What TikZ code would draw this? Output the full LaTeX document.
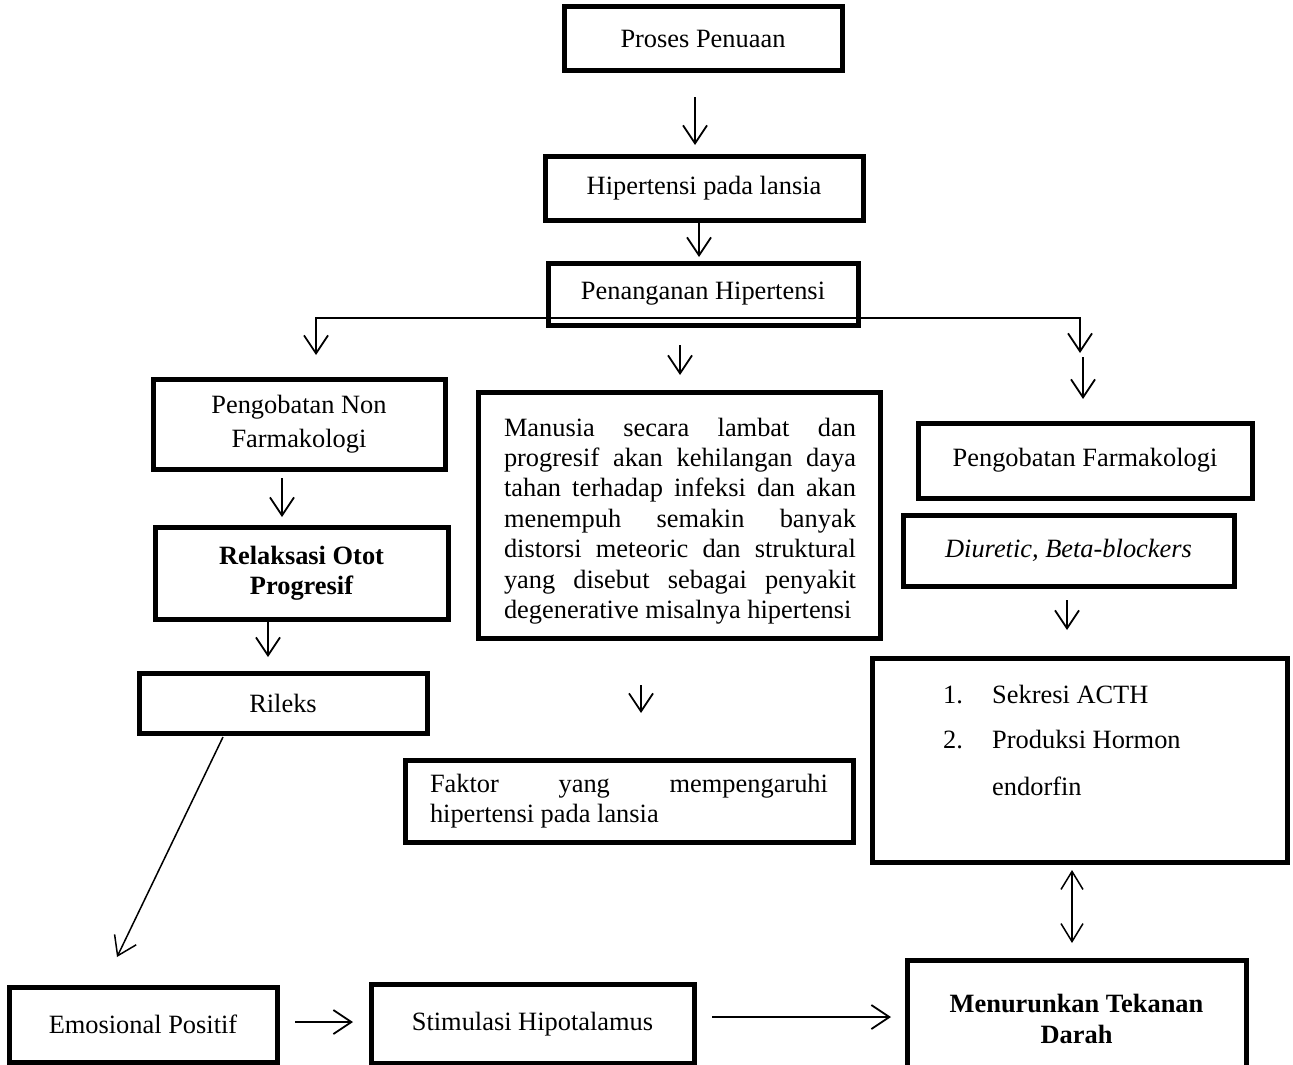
\documentclass[tikz,border=0pt]{standalone}
\usepackage{fontspec}
\setmainfont{Liberation Serif}
\usetikzlibrary{arrows.meta}
\begin{document}
\begin{tikzpicture}[x=1pt,y=-1pt,
  every node/.style={font=\fontsize{26.4}{30.4}\selectfont},
  box/.style={draw, line width=5pt, inner sep=0pt, align=center},
  arr/.style={line width=1.8pt, -{Straight Barb[length=18pt,width=24pt]}},
  dbl/.style={line width=1.5pt, {Straight Barb[length=18pt,width=22pt]}-{Straight Barb[length=18pt,width=22pt]}},
  lbl/.style={inner sep=0pt, anchor=base west}]
\useasboundingbox (0,0) rectangle (1293,1065);
\clip (0,0) rectangle (1293,1065);

% boxes
\node[box, minimum width=278pt, minimum height=64pt] (p1) at (703,39) {Proses Penuaan};
\node[box, minimum width=318pt, minimum height=64pt] (p2) at (704,188) {Hipertensi pada lansia};
\node[box, minimum width=310pt, minimum height=62pt] (p3) at (703,294) {Penanganan Hipertensi};
\node[box, minimum width=292pt, minimum height=90pt] (nf) at (299,424) {Pengobatan Non\\[3pt]Farmakologi};
\node[box, minimum width=293pt, minimum height=92pt] (rop) at (301.5,573) {\bfseries Relaksasi Otot\\\bfseries Progresif};
\node[box, minimum width=288pt, minimum height=60pt] (ril) at (283,703) {Rileks};
\node[box, minimum width=402pt, minimum height=246pt] (man) at (679,515) {};
\node[inner sep=0pt, text width=352pt, align=justify] (mantext) at (680,521)
  {Manusia secara lambat dan\linebreak progresif akan kehilangan daya\linebreak tahan terhadap infeksi dan akan\linebreak menempuh semakin banyak\linebreak distorsi meteoric dan struktural\linebreak yang disebut sebagai penyakit\linebreak degenerative misalnya hipertensi};
\node[box, minimum width=448pt, minimum height=82pt, text width=398pt, align=justify] (fak) at (629,801)
  {Faktor yang mempengaruhi\linebreak hipertensi pada lansia};
\node[box, minimum width=334pt, minimum height=75pt] (pf) at (1085,460.5) {Pengobatan Farmakologi};
\node[box, minimum width=331pt, minimum height=71pt] (diu) at (1068.5,550.5) {\itshape Diuretic, Beta-blockers};
\node[box, minimum width=415pt, minimum height=204pt] (lst) at (1079.5,760) {};
\node[lbl] (n1) at (943,703) {1.};
\node[lbl] (t1) at (992,703) {Sekresi ACTH};
\node[lbl] (n2) at (943,748) {2.};
\node[lbl] (t2) at (992,748) {Produksi Hormon};
\node[lbl] (t3) at (992,795) {endorfin};
\node[box, minimum width=268pt, minimum height=75pt] (emo) at (143,1024.5) {Emosional Positif};
\node[box, minimum width=323pt, minimum height=79pt] (sti) at (532.5,1024) {Stimulasi Hipotalamus};
\node[box, minimum width=339pt, minimum height=118pt] (men) at (1076.5,1019) {\bfseries Menurunkan Tekanan\\\bfseries Darah};

% connector end points
\coordinate (a1s) at (695,97);   \coordinate (a1e) at (695,145);
\coordinate (a2s) at (699,219);  \coordinate (a2e) at (699,257);
\coordinate (brL) at (316,355);  \coordinate (brC) at (1080,318); \coordinate (brR) at (1080,353);
\coordinate (a3s) at (1083,357); \coordinate (a3e) at (1083,399);
\coordinate (a4s) at (680,345);  \coordinate (a4e) at (680,375);
\coordinate (a5s) at (282,478);  \coordinate (a5e) at (282,517);
\coordinate (a6s) at (268,619);  \coordinate (a6e) at (268,657);
\coordinate (a7s) at (641,685);  \coordinate (a7e) at (641,713);
\coordinate (a8s) at (1067,600); \coordinate (a8e) at (1067,630);
\coordinate (a9s) at (1072,870); \coordinate (a9e) at (1072,943);
\coordinate (a10s) at (223,737); \coordinate (a10e) at (117,957);
\coordinate (a11s) at (295,1022); \coordinate (a11e) at (353,1022);
\coordinate (a12s) at (712,1017); \coordinate (a12e) at (891,1017);

% connectors
\draw[arr] (a1s) -- (a1e);
\draw[arr] (a2s) -- (a2e);
\draw[line width=1.8pt, {Straight Barb[length=18pt,width=24pt]}-{Straight Barb[length=18pt,width=24pt]}] (brL) |- (brC) -- (brR);
\draw[arr] (a3s) -- (a3e);
\draw[arr] (a4s) -- (a4e);
\draw[arr] (a5s) -- (a5e);
\draw[arr] (a6s) -- (a6e);
\draw[arr] (a7s) -- (a7e);
\draw[arr] (a8s) -- (a8e);
\draw[dbl] (a9s) -- (a9e);
\draw[arr, line width=1.5pt] (a10s) -- (a10e);
\draw[arr] (a11s) -- (a11e);
\draw[arr] (a12s) -- (a12e);
\end{tikzpicture}
\end{document}
